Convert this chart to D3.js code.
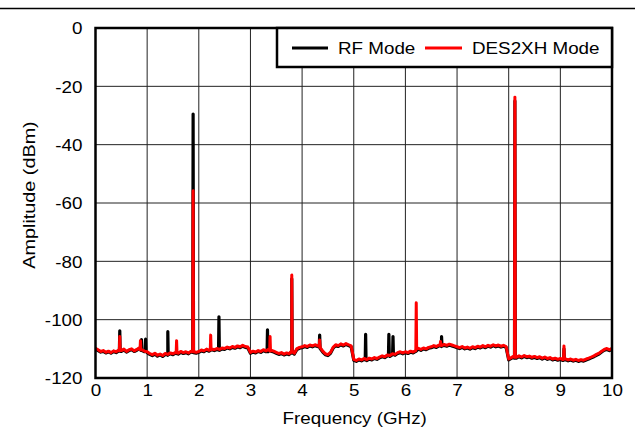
<!DOCTYPE html>
<html><head><meta charset="utf-8">
<script src="https://cdn.jsdelivr.net/npm/d3@7"></script>
<style>
body{margin:0;background:#fff}
svg{display:block}
text{font-family:"Liberation Sans",Arial,sans-serif;font-size:16.5px;fill:#000}
</style>
</head><body>
<svg id="c" width="635" height="428"></svg>
<script>
// ---- data ----
const xTicks = [0,1,2,3,4,5,6,7,8,9,10];
const yTicks = [0,-20,-40,-60,-80,-100,-120];
const seriesNames = ["RF Mode","DES2XH Mode"];
const floorStep = 0.05; // GHz between floor samples, starting at 0 GHz

const rfFloor = [
-110.0,-110.6,-111.1,-110.9,-111.4,-111.0,-111.5,-110.9,-111.3,-110.7,
-110.9,-110.4,-111.1,-110.6,-110.3,-110.9,-110.5,-109.9,-110.6,-111.0,
-111.3,-111.9,-112.3,-111.8,-112.5,-112.0,-112.6,-111.9,-112.2,-111.7,
-112.0,-111.5,-111.8,-111.2,-111.6,-111.3,-111.7,-111.1,-111.3,-111.5,
-111.2,-110.7,-111.0,-110.4,-110.8,-110.3,-110.6,-110.2,-110.5,-110.0,
-110.2,-109.7,-110.0,-109.5,-109.8,-109.3,-109.6,-109.1,-109.5,-109.7,
-111.5,-111.1,-111.4,-110.9,-111.2,-110.6,-111.0,-110.5,-110.8,-111.1,
-111.5,-111.9,-111.6,-112.1,-111.7,-112.0,-111.5,-111.8,-110.2,-109.8,
-109.6,-109.2,-109.5,-109.0,-109.3,-108.9,-109.2,-109.9,-111.1,-112.0,
-112.3,-111.5,-109.8,-108.9,-109.2,-108.6,-109.0,-108.5,-108.9,-109.3,
-113.9,-114.3,-113.8,-114.1,-113.6,-114.0,-113.5,-113.8,-113.3,-113.6,
-113.1,-112.7,-113.0,-112.4,-112.6,-112.0,-112.2,-111.6,-111.3,-111.7,
-111.3,-111.6,-111.1,-111.4,-110.9,-110.1,-110.5,-110.0,-110.3,-109.8,
-109.6,-109.2,-109.5,-109.0,-109.2,-108.8,-109.1,-108.7,-109.0,-109.3,
-109.6,-109.9,-109.5,-110.0,-109.7,-110.1,-109.6,-109.9,-109.4,-109.7,
-109.2,-109.6,-109.1,-109.4,-108.9,-109.3,-109.0,-109.4,-109.1,-109.5,
-113.8,-113.3,-112.8,-113.2,-112.7,-113.1,-112.6,-113.0,-112.8,-113.2,
-112.9,-113.3,-113.0,-113.5,-113.1,-113.6,-113.3,-113.8,-113.5,-113.9,
-113.6,-114.0,-113.7,-114.1,-113.8,-114.2,-113.9,-114.3,-114.0,-114.2,
-113.8,-113.5,-113.1,-112.7,-112.2,-111.8,-111.1,-110.5,-110.2,-110.6,
-110.1];

const desFloor = [
-109.8,-110.3,-110.9,-110.6,-111.2,-110.8,-111.3,-110.7,-111.0,-110.4,
-110.6,-110.1,-110.9,-110.3,-110.0,-110.7,-110.2,-109.6,-110.3,-110.8,
-111.0,-111.6,-112.0,-111.5,-112.2,-111.8,-112.3,-111.6,-111.9,-111.4,
-111.7,-111.2,-111.5,-110.9,-111.3,-111.0,-111.4,-110.8,-111.0,-111.2,
-110.9,-110.4,-110.7,-110.1,-110.5,-110.0,-110.3,-109.9,-110.2,-109.7,
-109.9,-109.4,-109.7,-109.2,-109.5,-109.0,-109.3,-108.8,-109.2,-109.4,
-111.2,-110.8,-111.1,-110.6,-110.9,-110.3,-110.7,-110.2,-110.5,-110.8,
-111.2,-111.6,-111.3,-111.8,-111.4,-111.7,-111.2,-111.5,-109.9,-109.5,
-109.3,-108.9,-109.2,-108.7,-109.0,-108.6,-108.9,-109.6,-110.8,-111.7,
-112.0,-111.2,-109.5,-108.6,-108.9,-108.3,-108.7,-108.2,-108.6,-109.0,
-113.6,-114.0,-113.5,-113.8,-113.3,-113.7,-113.2,-113.5,-113.0,-113.3,
-112.8,-112.4,-112.7,-112.1,-112.3,-111.7,-111.9,-111.3,-111.0,-111.4,
-111.0,-111.3,-110.8,-111.1,-110.6,-109.8,-110.2,-109.7,-110.0,-109.5,
-109.3,-108.9,-109.2,-108.7,-108.9,-108.5,-108.8,-108.4,-108.7,-109.0,
-109.3,-109.6,-109.2,-109.7,-109.4,-109.8,-109.3,-109.6,-109.1,-109.4,
-108.9,-109.3,-108.8,-109.1,-108.6,-109.0,-108.7,-109.1,-108.8,-109.2,
-113.5,-113.0,-112.5,-112.9,-112.4,-112.8,-112.3,-112.7,-112.5,-112.9,
-112.6,-113.0,-112.7,-113.2,-112.8,-113.3,-113.0,-113.5,-113.2,-113.6,
-113.3,-113.7,-113.4,-113.8,-113.5,-113.9,-113.6,-114.0,-113.7,-113.9,
-113.5,-113.2,-112.8,-112.4,-111.9,-111.5,-110.8,-110.2,-109.9,-110.3,
-109.8];

// spurs: [frequency GHz, peak dBm, base dBm read at the foot of the spur]
const rfSpikes = [[0.47,-103.8,-110.8],[0.89,-106.8,-110.5],[0.97,-106.7,-110.8],[1.40,-104.1,-112.0],
  [1.89,-29.5,-111.2],[2.39,-99.0,-110.4],[3.33,-103.5,-111.0],[3.80,-86.0,-111.0],[4.34,-105.3,-109.4],
  [5.23,-105.0,-113.8],[5.68,-105.0,-112.2],[5.76,-105.8,-111.8],[6.70,-105.8,-109.0],[8.12,-25.0,-113.2],
  [9.07,-110.0,-113.8]];
const desSpikes = [[0.47,-105.8,-110.6],[0.87,-107.2,-110.3],[1.57,-107.2,-111.3],[1.89,-55.8,-111.0],
  [2.23,-105.3,-110.3],[3.38,-105.8,-110.7],[3.80,-84.7,-110.8],[4.34,-107.0,-109.2],[6.21,-94.2,-110.0],
  [6.68,-107.5,-108.8],[8.12,-23.7,-112.9],[9.07,-109.0,-113.5]];

// ---- styles ----
const colors = ["#000000","#ff0000"];
const W = 635, H = 428;
const M = {left:95.5, right:612, top:28, bottom:378};
const SX = 1.14;  // horizontal text stretch
const SXY = 1.2;  // stretch of the rotated y title
const spurHalf = 0.008; // GHz half-width of spur foot

const svg = d3.select("#c");
const x = d3.scaleLinear().domain([0,10]).range([M.left, M.right]);
const y = d3.scaleLinear().domain([-120,0]).range([M.bottom, M.top]);

function build(floor, spikes){
  const pts = floor.map((v,i)=>({f:+(i*floorStep).toFixed(3), v}));
  spikes.forEach(s=>{
    pts.push({f:s[0]-spurHalf, v:s[2]});
    pts.push({f:s[0], v:s[1]});
    pts.push({f:s[0]+spurHalf, v:s[2]});
  });
  pts.sort((a,b)=>a.f-b.f);
  return pts;
}
const series = [build(rfFloor, rfSpikes), build(desFloor, desSpikes)];

// top rule
svg.append("line").attr("x1",0).attr("x2",W).attr("y1",8.5).attr("y2",8.5)
  .attr("stroke","#000").attr("stroke-width",1.5);

// grid
const g = svg.append("g");
g.selectAll(".vg").data(xTicks.slice(1,-1)).join("line")
  .attr("x1",d=>x(d)).attr("x2",d=>x(d)).attr("y1",M.top).attr("y2",M.bottom)
  .attr("stroke","#222").attr("stroke-width",1);
g.selectAll(".hg").data(yTicks.slice(1,-1)).join("line")
  .attr("y1",d=>y(d)).attr("y2",d=>y(d)).attr("x1",M.left).attr("x2",M.right)
  .attr("stroke","#222").attr("stroke-width",1);

// clip
svg.append("clipPath").attr("id","clip").append("rect")
  .attr("x",M.left).attr("y",M.top).attr("width",M.right-M.left).attr("height",M.bottom-M.top);

const line = d3.line().x(d=>x(d.f)).y(d=>y(d.v));
svg.append("g").attr("clip-path","url(#clip)").selectAll("path").data(series).join("path")
  .attr("d",line).attr("fill","none")
  .attr("stroke",(d,i)=>colors[i]).attr("stroke-width",(d,i)=>i===0?3.2:3)
  .attr("stroke-linejoin","round");

// frame
svg.append("rect").attr("x",M.left).attr("y",M.top).attr("width",M.right-M.left).attr("height",M.bottom-M.top)
  .attr("fill","none").attr("stroke","#000").attr("stroke-width",2.5);

// axes
const xAxis = svg.append("g").attr("transform",`translate(0,${M.bottom})`)
  .call(d3.axisBottom(x).tickValues(xTicks).tickSize(0).tickFormat(d3.format("d")));
xAxis.select(".domain").remove();
xAxis.selectAll("text").attr("y",18.5).attr("dy",0).attr("transform",`scale(${SX},1)`)
  .style("font-size","16.5px").style("font-family",'"Liberation Sans",Arial,sans-serif').attr("fill","#000");

const yAxis = svg.append("g").attr("transform",`translate(${M.left},0)`)
  .call(d3.axisLeft(y).tickValues(yTicks).tickSize(0).tickFormat(d=>d===0?"0":"-"+Math.abs(d)));
yAxis.select(".domain").remove();
yAxis.selectAll("text").attr("x",-13/SX).attr("dy","0.35em").attr("transform",`scale(${SX},1)`)
  .style("font-size","16.5px").style("font-family",'"Liberation Sans",Arial,sans-serif').attr("fill","#000");

// titles
svg.append("text").attr("transform",`translate(354.7,423.5) scale(${SX},1)`)
  .attr("text-anchor","middle").text("Frequency (GHz)");
svg.append("text").attr("transform",`translate(35,195) rotate(-90) scale(${SXY},1)`)
  .attr("text-anchor","middle").text("Amplitude (dBm)");

// legend
const lg = svg.append("g");
lg.append("rect").attr("x",277).attr("y",M.top).attr("width",M.right-277).attr("height",39)
  .attr("fill","#fff").attr("stroke","#000").attr("stroke-width",2.5);
const items = [{x0:292,x1:328,tx:338},{x0:425,x1:462,tx:472}];
items.forEach((it,i)=>{
  lg.append("line").attr("x1",it.x0).attr("x2",it.x1).attr("y1",48).attr("y2",48)
    .attr("stroke",colors[i]).attr("stroke-width",3);
  lg.append("text").attr("transform",`translate(${it.tx},53.5) scale(${SX},1)`).text(seriesNames[i]);
});
</script>
</body></html>
